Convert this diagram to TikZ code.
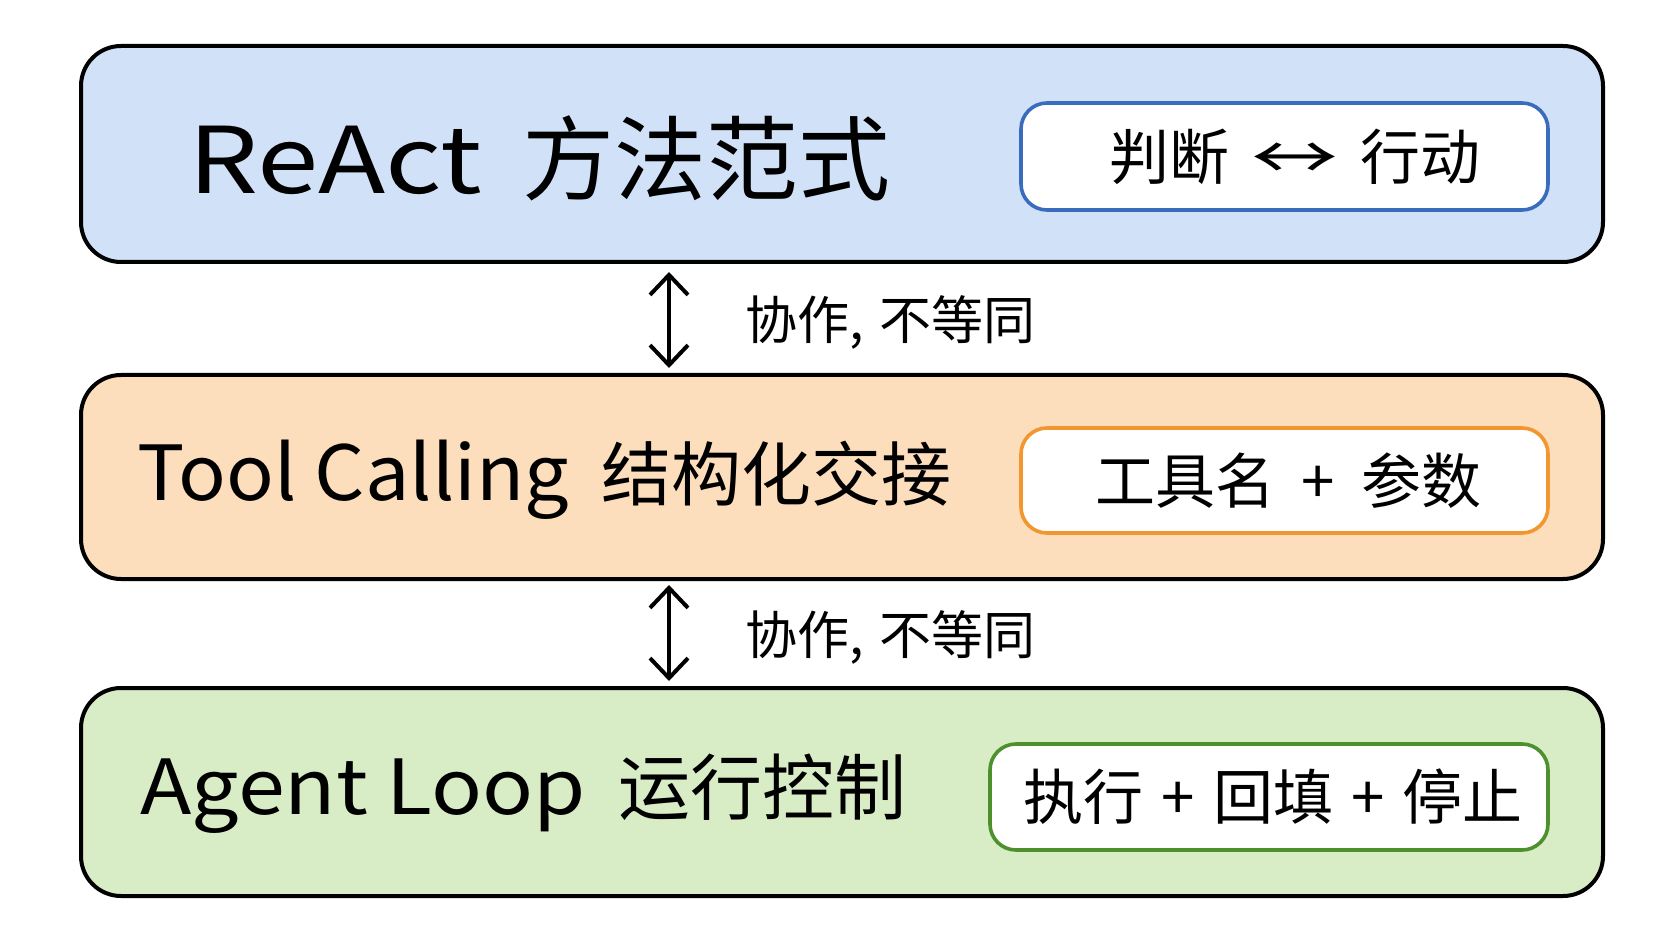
\documentclass[tikz,border=0pt]{standalone}
\usepackage{fontspec}
\setmainfont{Noto Sans CJK SC}
\usetikzlibrary{arrows.meta}
\definecolor{bluefill}{HTML}{D1E2F8}
\definecolor{orangefill}{HTML}{FCDDBC}
\definecolor{greenfill}{HTML}{D8ECC6}
\definecolor{blueline}{HTML}{3A6CBE}
\definecolor{orangeline}{HTML}{F2962F}
\definecolor{greenline}{HTML}{4E8F2E}
\tikzset{
  outerbox/.style={draw=black, line width=2pt, rounded corners=20pt, minimum width=761pt, inner sep=0pt},
  innerbox/.style={draw, fill=white, line width=1.8pt, rounded corners=13pt, inner sep=0pt},
  titletext/.style={anchor=west, inner sep=0pt, text=black},
  tagtext/.style={inner sep=0pt, text=black, font=\fontsize{30}{34}\selectfont},
  labeltext/.style={anchor=west, inner sep=0pt, font=\fontsize{26}{30}\selectfont},
  dblarrow/.style={line width=2pt, {Straight Barb[length=10pt,width=19pt,line width=2pt]}-{Straight Barb[length=10pt,width=19pt,line width=2pt]}}
}
\newcommand{\wideL}[2]{\scalebox{#1}[1]{#2}}
\begin{document}
\begin{tikzpicture}[x=0.5pt,y=-0.5pt]
\useasboundingbox (0,0) rectangle (1672,941);
\fill[white] (0,0) rectangle (1672,941);

% outer boxes
\node[outerbox, fill=bluefill, minimum height=108pt] (react) at (842,154) {};
\node[outerbox, fill=orangefill, minimum height=102pt] (tool) at (842,477) {};
\node[outerbox, fill=greenfill, minimum height=104pt] (loop) at (842,792) {};

% inner boxes
\node[innerbox, draw=blueline, minimum width=263.5pt, minimum height=53.5pt] (reacttag) at (1284.5,156.5) {};
\node[innerbox, draw=orangeline, minimum width=263.5pt, minimum height=52.5pt] (tooltag) at (1284.5,480.5) {};
\node[innerbox, draw=greenline, minimum width=279pt, minimum height=53pt] (looptag) at (1269,797) {};

\node[tagtext] (reacttxt) at ([xshift=5pt]reacttag.center) {判断\hspace{11pt}\wideL{1.45}{↔}\hspace{11pt}行动};
\node[tagtext] (tooltxt) at ([xshift=2pt]tooltag.center) {工具名\hspace{13pt}+\hspace{13pt}参数};
\node[tagtext] (looptxt) at ([xshift=2pt]looptag.center) {执行\hspace{9pt}+\hspace{9pt}回填\hspace{9pt}+\hspace{9pt}停止};

% titles
\node[titletext, font=\fontsize{46}{52}\selectfont] (reacttitle) at (188,158) {\wideL{1.2}{ReAct}\hspace{20pt}方法范式};
\node[titletext, font=\fontsize{35}{44}\selectfont] (tooltitle) at (137,480) {\fontsize{38}{44}\selectfont\wideL{1.04}{Tool Calling}\hspace{16pt}\fontsize{35}{44}\selectfont 结构化交接};
\node[titletext, font=\fontsize{36}{44}\selectfont] (looptitle) at (140,794) {\fontsize{38}{44}\selectfont\wideL{1.11}{Agent Loop}\hspace{16pt}\fontsize{36}{44}\selectfont 运行控制};

% connectors
\coordinate (a1s) at (669,272);
\coordinate (a1e) at (669,368);
\coordinate (a2s) at (669,585);
\coordinate (a2e) at (669,681);
\draw[dblarrow] (a1s) -- (a1e);
\draw[dblarrow] (a2s) -- (a2e);

\node[labeltext] (lab1) at (745,322) {协作,\hspace{8pt}不等同};
\node[labeltext] (lab2) at (745,637) {协作,\hspace{8pt}不等同};
\end{tikzpicture}
\end{document}
